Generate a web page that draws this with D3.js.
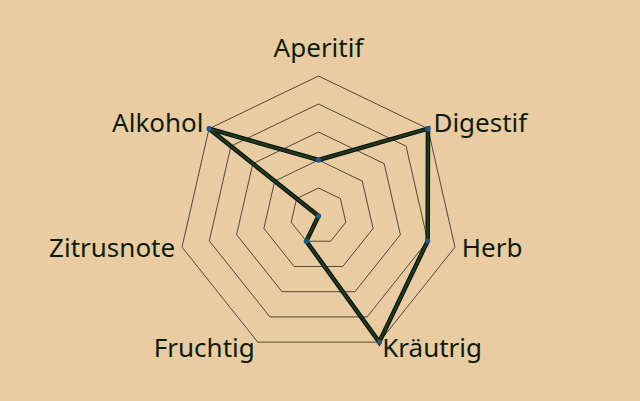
<!DOCTYPE html>
<html>
<head>
<meta charset="utf-8">
<script src="https://cdn.jsdelivr.net/npm/d3@7"></script>
<style>
  html, body { margin: 0; padding: 0; background: #e9cca2; }
  svg { display: block; }
  text { font-family: "Noto Sans", sans-serif; }
</style>
</head>
<body>
<svg id="canvas" width="640" height="401"></svg>
<script>
// axes, clockwise from the top
const categories = ['Aperitif', 'Digestif', 'Herb', 'Kräutrig', 'Fruchtig', 'Zitrusnote', 'Alkohol'];
const values = [2, 5, 4, 5, 1, 0, 5];
const levels = [1, 2, 3, 4, 5];

const width = 640, height = 401;
const cx = 318.5, cy = 216, R = 140;

const svg = d3.select('#canvas');

const r = d3.scaleLinear().domain([0, 5]).range([0, R]);
const angle = d3.scaleLinear().domain([0, categories.length]).range([0, 2 * Math.PI]);

const pt = (i, v) => [cx + r(v) * Math.sin(angle(i)), cy - r(v) * Math.cos(angle(i))];

const line = d3.line().curve(d3.curveLinearClosed);

// grid rings
svg.append('g')
    .selectAll('path')
    .data(levels)
    .join('path')
    .attr('d', lv => line(categories.map((c, i) => pt(i, lv))))
    .attr('fill', 'none')
    .attr('stroke', '#2b2618')
    .attr('stroke-width', 0.8);

// labels
svg.append('g')
    .selectAll('text')
    .data(categories)
    .join('text')
    .each(function(c, i) {
        const a = angle(i);
        const s = Math.sin(a), co = Math.cos(a);
        const [x, y] = pt(i, 5);
        const t = d3.select(this).text(c)
            .attr('font-size', 26)
            .attr('fill', '#0d1d0d');
        if (Math.abs(s) < 0.1) {
            t.attr('x', x).attr('y', y - 19).attr('text-anchor', 'middle');
        } else {
            t.attr('x', x + s * 7)
                .attr('y', y - co * 7)
                .attr('dy', '0.31em')
                .attr('text-anchor', s > 0 ? 'start' : 'end');
        }
    });

const dataPts = values.map((v, i) => pt(i, v));

// data outline
svg.append('path')
    .attr('d', line(dataPts))
    .attr('fill', 'none')
    .attr('stroke', '#0a140a')
    .attr('stroke-width', 4.5)
    .attr('stroke-linejoin', 'miter');

svg.append('path')
    .attr('d', line(dataPts))
    .attr('fill', 'none')
    .attr('stroke', '#1f3a1c')
    .attr('stroke-width', 2.2)
    .attr('stroke-linejoin', 'miter');

// markers
svg.append('g')
    .selectAll('circle')
    .data(dataPts)
    .join('circle')
    .attr('cx', d => d[0])
    .attr('cy', d => d[1])
    .attr('r', 2.6)
    .attr('fill', '#1e5b8a');
</script>
</body>
</html>
